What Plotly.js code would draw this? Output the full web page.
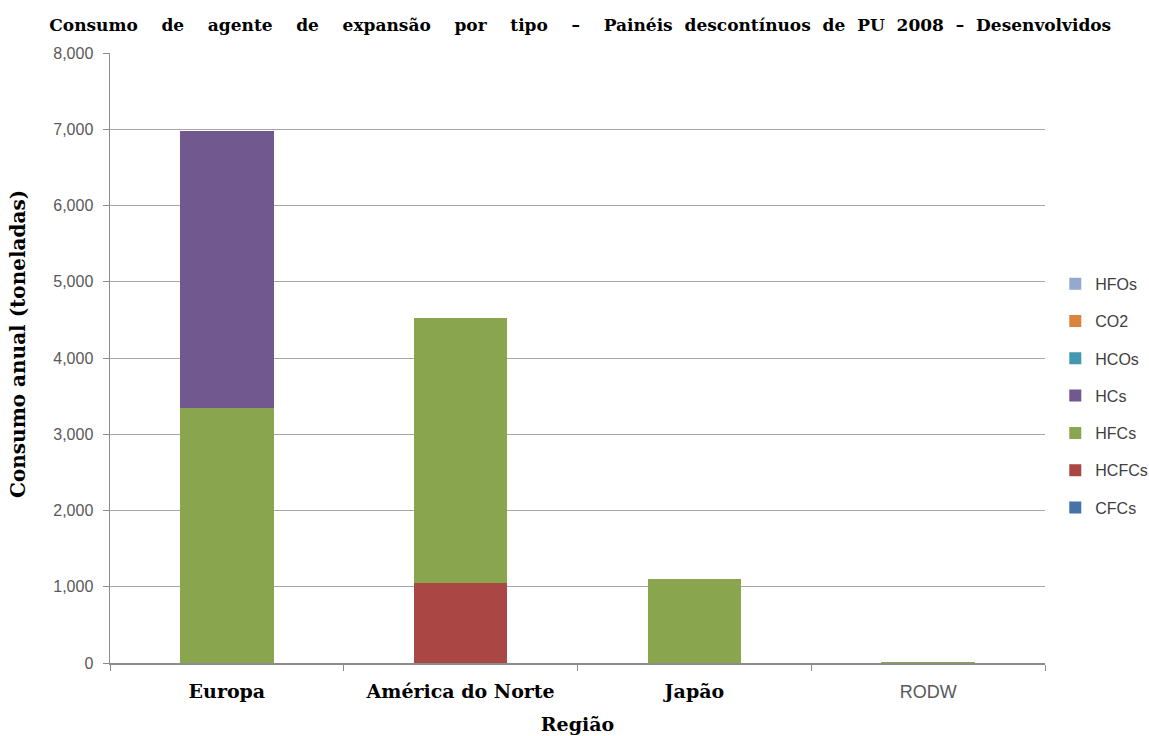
<!DOCTYPE html>
<html>
<head>
<meta charset="utf-8">
<script src="https://cdn.plot.ly/plotly-3.0.1.min.js"></script>
<style>html,body{margin:0;padding:0;background:#fff;}#chart{width:1149px;height:736px;}</style>
</head>
<body>
<div id="chart"></div>
<script>
var regions = ["Europa", "América do Norte", "Japão", "RODW"];
var regionLabels = ["Europa", "América do Norte", "Japão",
  "<span style=\"font-family:'Liberation Sans',Arial,sans-serif;font-weight:normal;font-size:18px;fill:#595959\">RODW</span>"];
var CFCs  = [0, 0, 0, 0];
var HCFCs = [0, 1045, 0, 0];
var HFCs  = [3350, 3475, 1100, 10];
var HCs   = [3630, 0, 0, 0];
var HCOs  = [0, 0, 0, 0];
var CO2   = [0, 0, 0, 0];
var HFOs  = [0, 0, 0, 0];

var seriesNames = ["CFCs", "HCFCs", "HFCs", "HCs", "HCOs", "CO2", "HFOs"];
var seriesData = [CFCs, HCFCs, HFCs, HCs, HCOs, CO2, HFOs];
var seriesColors = ["#4572A7", "#AA4643", "#89A54E", "#71588F", "#4198AF", "#DB843D", "#93A9CF"];

var traces = seriesNames.map(function (n, i) {
  return {
    type: "bar",
    name: n,
    legendgroup: n,
    legendrank: 100 - i,
    x: regions,
    y: seriesData[i],
    marker: {color: seriesColors[i], line: {width: 0}},
    hoverinfo: "name+y"
  };
});

var serif = "'DejaVu Serif','Liberation Serif',serif";
var sans = "'Liberation Sans',Arial,sans-serif";
var sp2 = "\u00a0\u00a0\u00a0\u00a0";
var sp1 = "\u00a0 ";

var layout = {
  width: 1149, height: 736,
  barmode: "stack",
  bargap: 0.6,
  paper_bgcolor: "#fff", plot_bgcolor: "#fff",
  margin: {l: 110, r: 104, t: 53, b: 73, autoexpand: false},
  title: {
    text: "<b>Consumo" + sp2 + "de" + sp2 + "agente" + sp2 + "de" + sp2 + "expansão" + sp2 + "por" + sp2 + "tipo" + sp2 + "–" + sp2 +
          "Painéis" + sp1 + "descontínuos" + sp1 + "de" + sp1 + "PU" + sp1 + "2008" + sp1 + "–" + sp1 + "Desenvolvidos</b>",
    font: {family: serif, size: 17, color: "#000"},
    x: 0.505, xanchor: "center", y: 0.966, yanchor: "middle"
  },
  xaxis: {
    tickmode: "array", tickvals: regions, ticktext: regionLabels,
    tickfont: {family: serif, size: 19, color: "#000", weight: "bold"},
    showline: true, linecolor: "#8c8c8c", linewidth: 1.5,
    ticks: "outside", tickson: "boundaries", ticklen: 6, tickcolor: "#8c8c8c",
    ticklabelstandoff: 11,
    title: {text: "<b>Região</b>", font: {family: serif, size: 19, color: "#000"}, standoff: 16},
    automargin: false
  },
  yaxis: {
    range: [0, 8000], dtick: 1000, tickformat: ",d",
    tickfont: {family: sans, size: 16, color: "#595959"},
    showgrid: true, gridcolor: "#a6a6a6", gridwidth: 1,
    showline: true, linecolor: "#8c8c8c", linewidth: 1.5,
    ticks: "outside", ticklen: 6, tickcolor: "#8c8c8c",
    ticklabelstandoff: 6,
    zeroline: false,
    automargin: false
  },
  annotations: [{
    text: "<b>Consumo anual (toneladas)</b>",
    xref: "paper", yref: "paper", x: 0, y: 0.523,
    xanchor: "center", yanchor: "middle", xshift: -92,
    textangle: -90, showarrow: false,
    font: {family: serif, size: 20, color: "#000"}
  }],
  legend: {
    x: 1.011, xanchor: "left", y: 0.438, yanchor: "middle",
    traceorder: "grouped",
    font: {family: sans, size: 16, color: "#404040"},
    tracegroupgap: 13.5, itemwidth: 30,
    bgcolor: "rgba(0,0,0,0)"
  },
  showlegend: true
};

Plotly.newPlot("chart", traces, layout, {displayModeBar: false, staticPlot: true});
</script>
</body>
</html>
